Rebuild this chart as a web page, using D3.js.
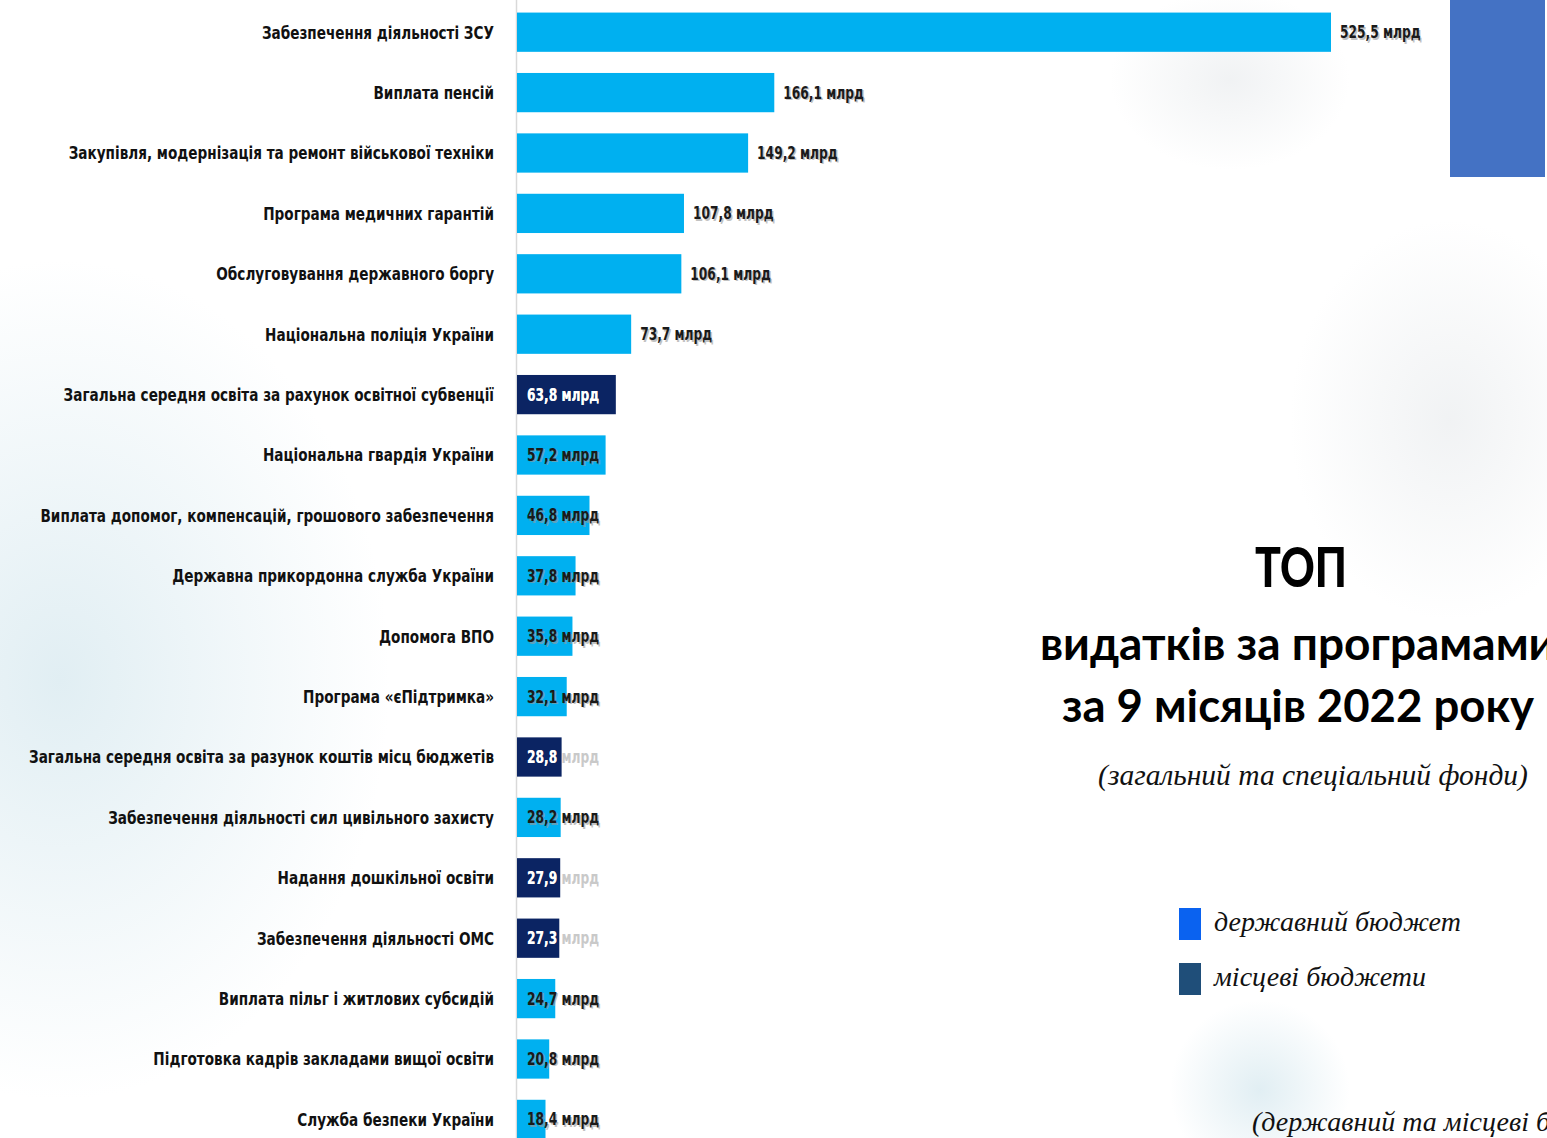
<!DOCTYPE html>
<html>
<head>
<meta charset="utf-8">
<script src="https://cdn.jsdelivr.net/npm/d3@7"></script>
<style>
  body { margin: 0; background: #fff; overflow: hidden; }
  svg { display: block; }
</style>
</head>
<body>
<svg id="chart" width="1547" height="1138"></svg>
<script>

//============ data
var programs = [
  "Забезпечення діяльності ЗСУ",
  "Виплата пенсій",
  "Закупівля, модернізація та ремонт військової техніки",
  "Програма медичних гарантій",
  "Обслуговування державного боргу",
  "Національна поліція України",
  "Загальна середня освіта за рахунок освітної субвенції",
  "Національна гвардія України",
  "Виплата допомог, компенсацій, грошового забезпечення",
  "Державна прикордонна служба України",
  "Допомога ВПО",
  "Програма «єПідтримка»",
  "Загальна середня освіта за разунок коштів місц бюджетів",
  "Забезпечення діяльності сил цивільного захисту",
  "Надання дошкільної освіти",
  "Забезпечення діяльності ОМС",
  "Виплата пільг і житлових субсидій",
  "Підготовка кадрів закладами вищої освіти",
  "Служба безпеки України"
];
var amounts = [525.5, 166.1, 149.2, 107.8, 106.1, 73.7, 63.8, 57.2, 46.8, 37.8, 35.8, 32.1, 28.8, 28.2, 27.9, 27.3, 24.7, 20.8, 18.4];
var budget = ["state","state","state","state","state","state","local","state","state","state","state","state","local","state","local","local","state","state","state"];

var budgetNames = ["державний бюджет", "місцеві бюджети"];
var titleLines = ["ТОП", "видатків за програмами", "за 9 місяців 2022 року"];
var subTitle = "(загальний та спеціальний фонди)";
var footNote = "(державний та місцеві бюджети)";


var barColor = { state: "#00b0f0", local: "#0b2463" };
var legendColor = ["#0a62f0", "#1f4e79"];
var labelFont = "'DejaVu Sans Condensed', 'DejaVu Sans', sans-serif";
var serifFont = "'Liberation Serif', 'DejaVu Serif', serif";

var svg = d3.select("#chart");
var defs = svg.append("defs");

// squeeze a text horizontally (no narrow font installed)
function squeeze(sel, k) {
  sel.each(function() {
    var w = this.getComputedTextLength();
    d3.select(this).attr("textLength", w * k).attr("lengthAdjust", "spacingAndGlyphs");
  });
}

//============ soft background blobs
function blob(id, color, op) {
  var g = defs.append("radialGradient").attr("id", id);
  g.append("stop").attr("offset", "0%").attr("stop-color", color).attr("stop-opacity", op);
  g.append("stop").attr("offset", "100%").attr("stop-color", color).attr("stop-opacity", 0);
}
blob("bgLeft", "#d4e7ee", 0.7);
blob("bgRight", "#dfe3e6", 0.45);

svg.append("ellipse").attr("cx", 60).attr("cy", 680).attr("rx", 330).attr("ry", 420).attr("fill", "url(#bgLeft)");
svg.append("ellipse").attr("cx", 1450).attr("cy", 420).attr("rx", 160).attr("ry", 200).attr("fill", "url(#bgRight)");
svg.append("ellipse").attr("cx", 1230).attr("cy", 80).attr("rx", 120).attr("ry", 90).attr("fill", "url(#bgRight)");
svg.append("ellipse").attr("cx", 1260).attr("cy", 1090).attr("rx", 90).attr("ry", 90).attr("fill", "url(#bgLeft)");

//============ scales
var x0 = 517;
var x = d3.scaleLinear()
          .domain([0, 525.5])
          .range([x0, 1331]);

var y = d3.scaleBand()
          .domain(programs)
          .range([2, 2 + 60.4 * programs.length])
          .paddingInner(0.35)
          .paddingOuter(0.175);

// axis line
svg.append("line")
   .attr("x1", x0 - 0.5).attr("x2", x0 - 0.5)
   .attr("y1", 0).attr("y2", 1138)
   .attr("stroke", "#d9d9d9")
   .attr("stroke-width", 1.5);

//============ left category labels
svg.append("g")
   .selectAll("text")
   .data(programs)
   .enter()
   .append("text")
     .attr("x", 494)
     .attr("y", function(d) { return y(d) + y.bandwidth() / 2; })
     .attr("dy", "0.35em")
     .attr("text-anchor", "end")
     .style("font-family", labelFont)
     .style("font-weight", "bold")
     .style("font-size", "18px")
     .style("fill", "#111")
     .text(function(d) { return d; })
     .call(squeeze, 0.84);

//============ bars
var rows = programs.map(function(p, i) {
  return { name: p, value: amounts[i], type: budget[i], idx: i };
});

var bars = svg.append("g").selectAll("g").data(rows).enter().append("g");

bars.append("rect")
    .attr("x", x0)
    .attr("y", function(d) { return y(d.name); })
    .attr("width", function(d) { return x(d.value) - x0; })
    .attr("height", y.bandwidth())
    .attr("fill", function(d) { return barColor[d.type]; });

// clip paths so white labels of dark bars fade outside the bar
bars.each(function(d) {
  defs.append("clipPath").attr("id", "clip" + d.idx)
      .append("rect")
      .attr("x", x0)
      .attr("y", y(d.name))
      .attr("width", x(d.value) - x0)
      .attr("height", y.bandwidth());
});

//============ value labels
function fmt(v) { return d3.format(".1f")(v).replace(".", ",") + " млрд"; }
function labelX(d) { return d.value > 70 ? x(d.value) + 9 : x0 + 10; }
function labelY(d) { return y(d.name) + y.bandwidth() / 2; }

function valueText(sel, dx, dy) {
  return sel.append("text")
    .attr("x", function(d) { return labelX(d) + dx; })
    .attr("y", function(d) { return labelY(d) + dy; })
    .attr("dy", "0.35em")
    .style("font-family", labelFont).style("font-weight", "bold").style("font-size", "17px")
    .text(function(d) { return fmt(d.value); })
    .call(squeeze, 0.8);
}

// light bars: dark text with soft shadow
var lightRows = bars.filter(function(d) { return d.type === "state"; });
valueText(lightRows, 1.5, 1.5).style("fill", "#9a9a9a").style("opacity", 0.6);
valueText(lightRows, 0, 0).style("fill", "#1a1a1a");

// dark bars: white text, greyish where it runs out of the bar
var darkRows = bars.filter(function(d) { return d.type === "local"; });
valueText(darkRows, 0, 0).style("fill", "#c9c9c9");
valueText(darkRows, 0, 0)
   .attr("clip-path", function(d) { return "url(#clip" + d.idx + ")"; })
   .style("fill", "#ffffff");

//============ top right block
svg.append("rect")
   .attr("x", 1450).attr("y", 0)
   .attr("width", 95).attr("height", 177)
   .attr("fill", "#4472c4");

//============ title
var titleFont = "Lato, 'Open Sans', sans-serif";
svg.append("text")
   .attr("x", 1301).attr("y", 587)
   .attr("text-anchor", "middle")
   .attr("textLength", 92).attr("lengthAdjust", "spacingAndGlyphs")
   .style("font-family", titleFont).style("font-weight", "900").style("font-size", "56px")
   .style("fill", "#000")
   .text(titleLines[0]);
svg.append("text")
   .attr("x", 1040).attr("y", 660)
   .style("font-family", titleFont).style("font-weight", "bold").style("font-size", "46px")
   .style("fill", "#000")
   .text(titleLines[1]);
svg.append("text")
   .attr("x", 1298).attr("y", 722)
   .attr("text-anchor", "middle")
   .style("font-family", titleFont).style("font-weight", "bold").style("font-size", "45.5px")
   .style("fill", "#000")
   .text(titleLines[2]);

svg.append("text")
   .attr("x", 1313).attr("y", 785)
   .attr("text-anchor", "middle")
   .style("font-family", serifFont).style("font-style", "italic").style("font-size", "29.5px")
   .style("fill", "#111")
   .text(subTitle);

//============ legend
var legend = svg.append("g").selectAll("g").data(budgetNames).enter().append("g");
legend.append("rect")
   .attr("x", 1179)
   .attr("y", function(d, i) { return 908 + i * 55; })
   .attr("width", 22).attr("height", 32)
   .attr("fill", function(d, i) { return legendColor[i]; });
legend.append("text")
   .attr("x", 1214)
   .attr("y", function(d, i) { return 931 + i * 55; })
   .style("font-family", serifFont).style("font-style", "italic").style("font-size", "28px")
   .style("fill", "#111")
   .text(function(d) { return d; });

svg.append("text")
   .attr("x", 1252).attr("y", 1131)
   .style("font-family", serifFont).style("font-style", "italic").style("font-size", "28px")
   .style("fill", "#111")
   .text(footNote);

</script>
</body>
</html>
